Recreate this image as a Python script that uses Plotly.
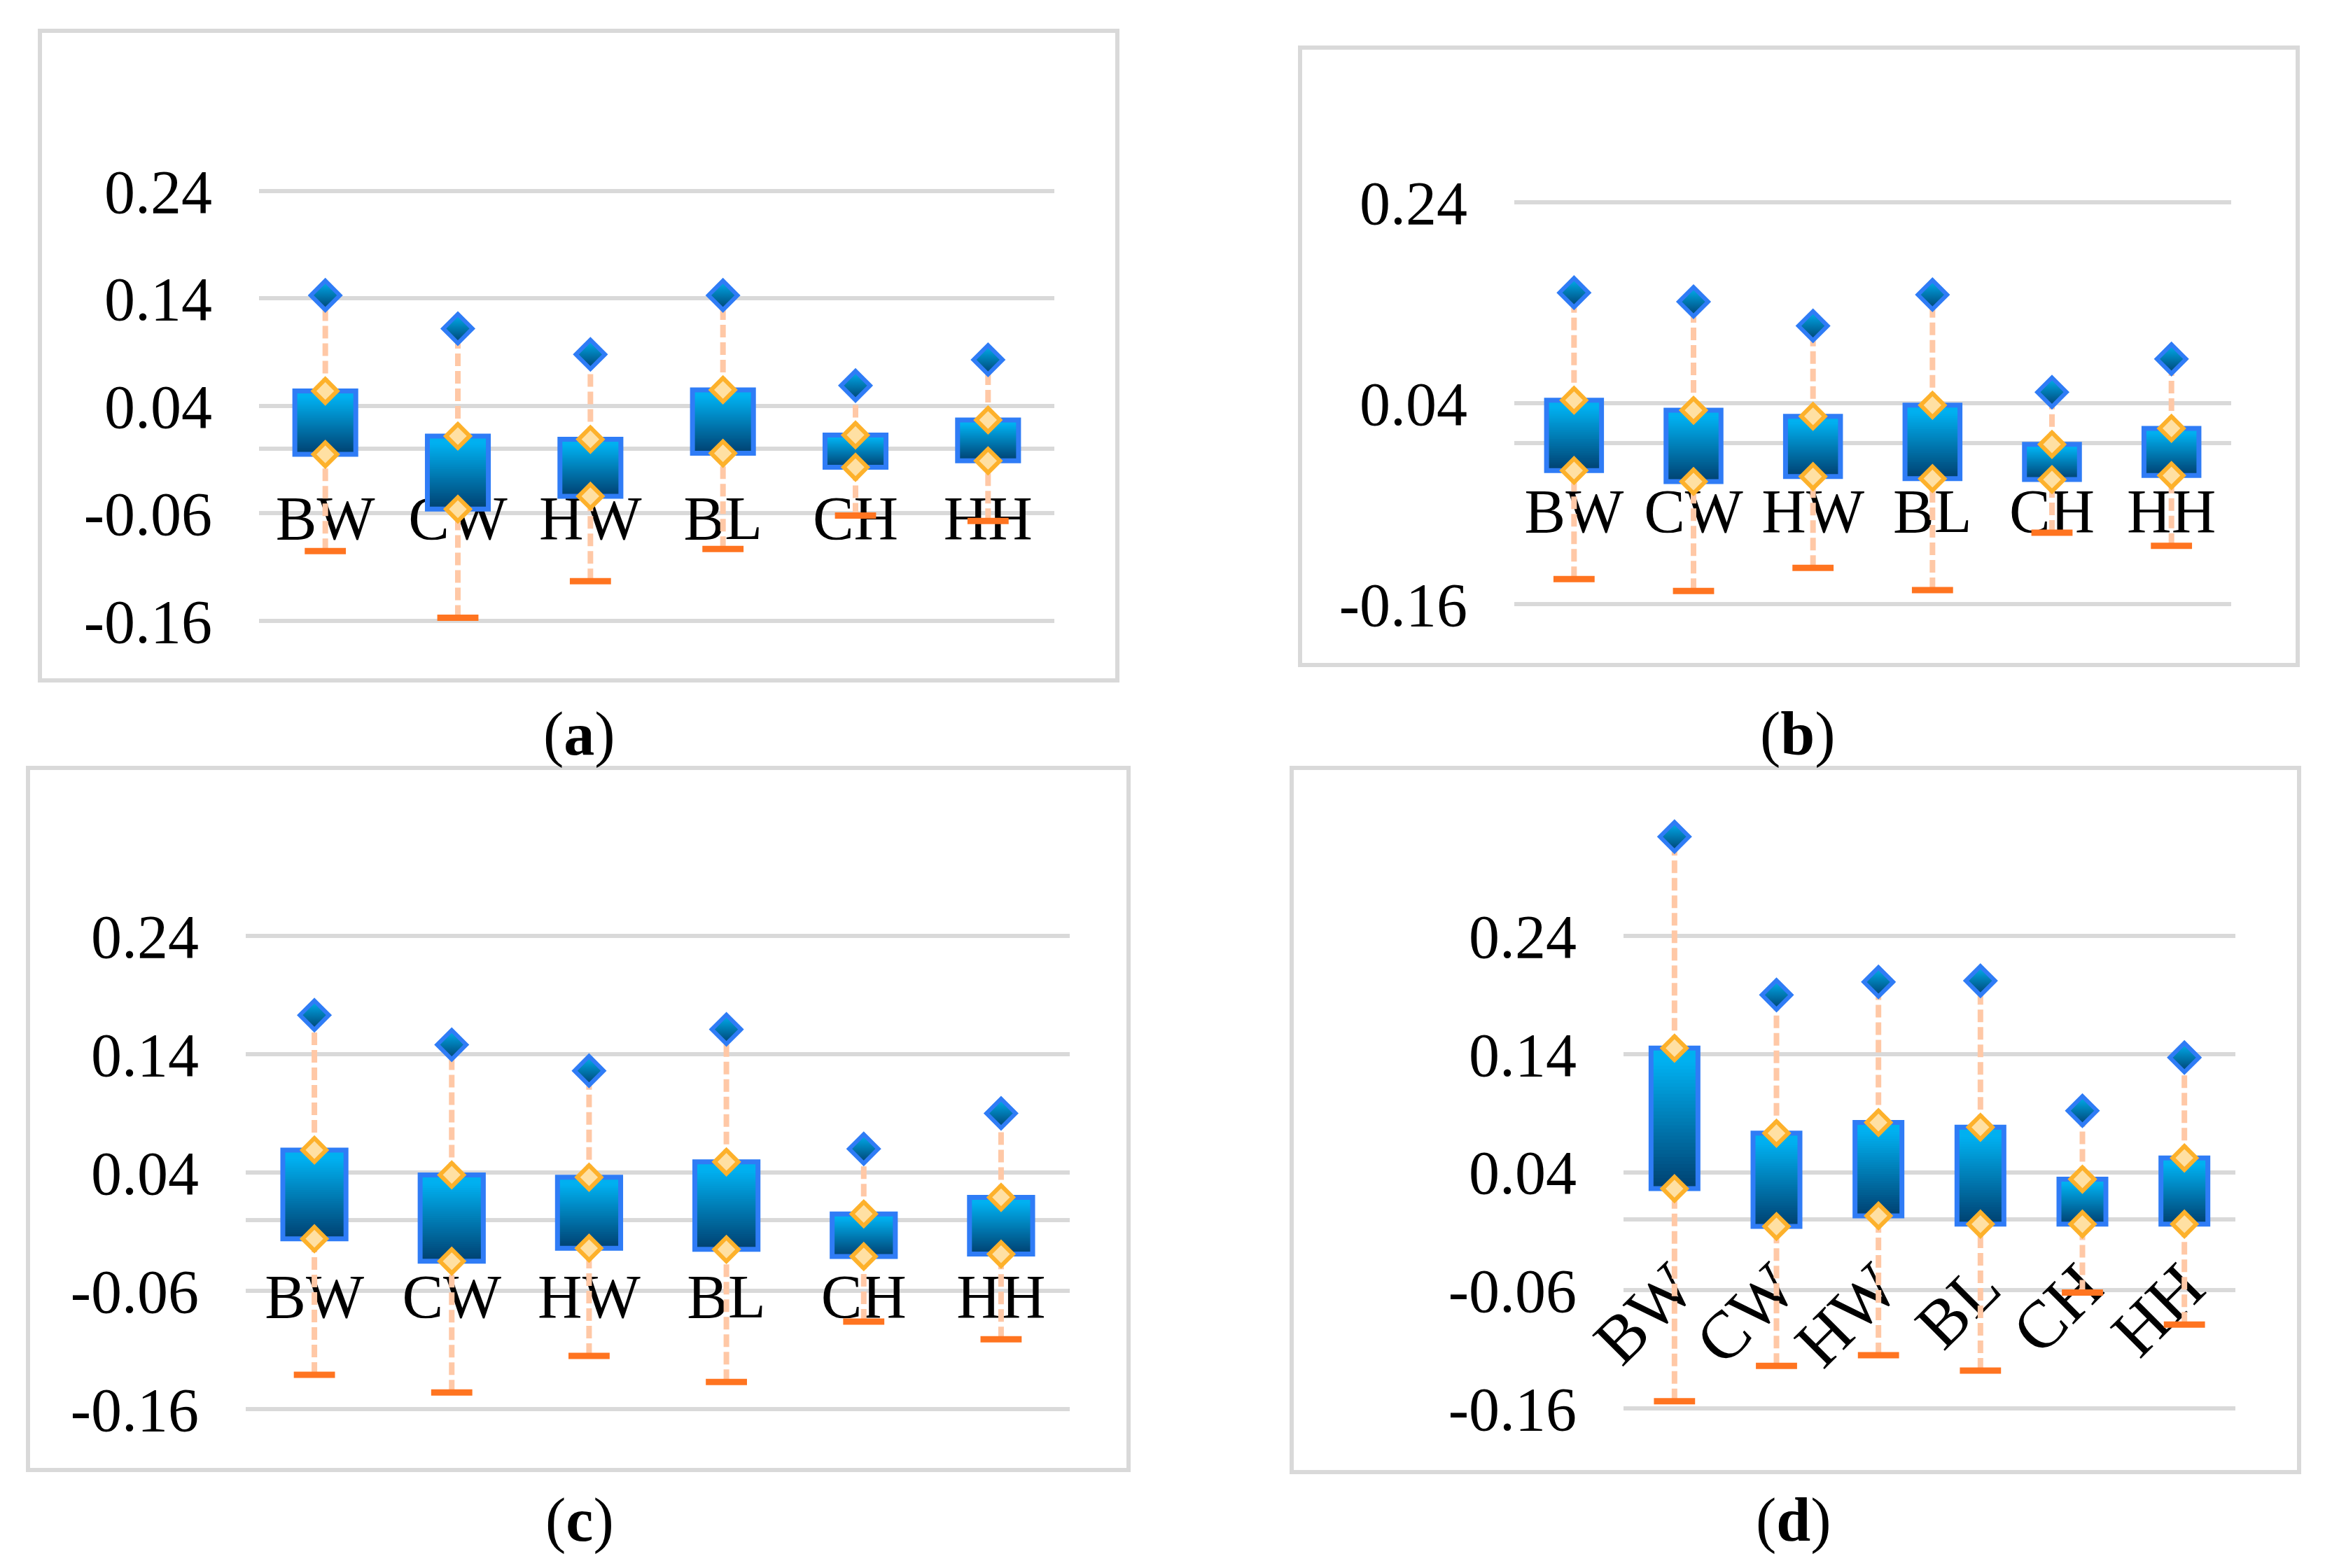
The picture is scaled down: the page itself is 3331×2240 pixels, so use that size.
import plotly.graph_objects as go

# categories shared by the four panels
cats = ["BW", "CW", "HW", "BL", "CH", "HH"]

# (a)
max_a = [0.143, 0.112, 0.088, 0.143, 0.059, 0.083]
q3_a = [0.054, 0.012, 0.009, 0.055, 0.013, 0.027]
q1_a = [-0.005, -0.056, -0.044, -0.004, -0.017, -0.011]
min_a = [-0.095, -0.157, -0.123, -0.093, -0.062, -0.067]

# (b)
max_b = [0.150, 0.141, 0.117, 0.148, 0.051, 0.084]
q3_b = [0.043, 0.033, 0.027, 0.038, -0.001, 0.015]
q1_b = [-0.027, -0.038, -0.033, -0.035, -0.036, -0.032]
min_b = [-0.135, -0.147, -0.124, -0.146, -0.089, -0.102]

# (c)
max_c = [0.173, 0.148, 0.126, 0.161, 0.060, 0.090]
q3_c = [0.059, 0.038, 0.036, 0.049, 0.005, 0.019]
q1_c = [-0.016, -0.035, -0.024, -0.025, -0.031, -0.029]
min_c = [-0.131, -0.146, -0.115, -0.137, -0.086, -0.101]

# (d)
max_d = [0.324, 0.190, 0.201, 0.202, 0.092, 0.137]
q3_d = [0.145, 0.073, 0.082, 0.078, 0.034, 0.052]
q1_d = [0.026, -0.006, 0.003, -0.004, -0.004, -0.004]
min_d = [-0.154, -0.124, -0.115, -0.128, -0.062, -0.089]

# y tick labels
ticks_full = [0.24, 0.14, 0.04, -0.06, -0.16]
ticks_full_text = ["0.24", "0.14", "0.04", "-0.06", "-0.16"]
ticks_sparse = [0.24, 0.04, -0.16]
ticks_sparse_text = ["0.24", "0.04", "-0.16"]

W, H = 3331, 2240
OFF = 8  # page body margin
FONT = "Liberation Serif, Times New Roman, serif"
GRID = "#D9D9D9"
BLUE = "#2F7CF6"
TOP = (0, 176, 240)
BOT = (0, 64, 112)
N_SLICES = 40
Y_LO, Y_HI = -0.175, 0.345

# pixel layout of each panel: plot x extent, y pixel of 0.24 and -0.16, frame, label
panels = [
    dict(key="a", mx=max_a, q3=q3_a, q1=q1_a, mn=min_a, tv=ticks_full, tt=ticks_full_text,
         x0=370, x1=1506, p24=273, p16=887, frame=(57, 44, 1596, 972), lab=(827, 1048),
         angle=0, stand=40, xfont=88),
    dict(key="b", mx=max_b, q3=q3_b, q1=q1_b, mn=min_b, tv=ticks_sparse, tt=ticks_sparse_text,
         x0=2163, x1=3187, p24=289, p16=863, frame=(1857, 68, 3282, 950), lab=(2568, 1048),
         angle=0, stand=38, xfont=88),
    dict(key="c", mx=max_c, q3=q3_c, q1=q1_c, mn=min_c, tv=ticks_full, tt=ticks_full_text,
         x0=351, x1=1528, p24=1337, p16=2013, frame=(40, 1097, 1612, 2100), lab=(828, 2171),
         angle=0, stand=50, xfont=88),
    dict(key="d", mx=max_d, q3=q3_d, q1=q1_d, mn=min_d, tv=ticks_full, tt=ticks_full_text,
         x0=2319, x1=3193, p24=1337, p16=2012, frame=(1845, 1097, 3284, 2103), lab=(2562, 2171),
         angle=-45, stand=20, xfont=96),
]


def shade(t):
    t = max(0.0, (t - 0.1) / 0.9)
    return "rgb(%d,%d,%d)" % tuple(round(a + (b - a) * t) for a, b in zip(TOP, BOT))


def px(x):
    return (x - OFF) / W


def py(y):
    return 1 - (y - OFF) / H


fig = go.Figure()
shapes = []
annotations = []

for i, p in enumerate(panels, start=1):
    xa = "x" if i == 1 else "x%d" % i
    ya = "y" if i == 1 else "y%d" % i

    # nested bars from full height down, giving a top-to-bottom gradient
    sx, sbase, sh, scol = [], [], [], []
    for c, lo, hi in zip(cats, p["q1"], p["q3"]):
        dh = (hi - lo) / N_SLICES
        for k in range(N_SLICES):
            sx.append(c)
            sbase.append(lo)
            sh.append(hi - k * dh - lo)
            scol.append(shade((k + 0.5) / N_SLICES))
    fig.add_trace(go.Bar(x=sx, y=sh, base=sbase, width=0.46, xaxis=xa, yaxis=ya,
                         marker=dict(color=scol, line=dict(width=0)), hoverinfo="skip"))
    # box outline
    fig.add_trace(go.Bar(x=cats, y=[b - a for a, b in zip(p["q1"], p["q3"])], base=p["q1"],
                         width=0.46, xaxis=xa, yaxis=ya,
                         marker=dict(color="rgba(0,0,0,0)", line=dict(color=BLUE, width=7))))

    # whiskers: min -> Q1 and Q3 -> max
    wx, wy = [], []
    for c, mn, lo, hi, mx in zip(cats, p["mn"], p["q1"], p["q3"], p["mx"]):
        wx += [c, c, None, c, c, None]
        wy += [mn, lo, None, hi, mx, None]
    fig.add_trace(go.Scatter(x=wx, y=wy, mode="lines", xaxis=xa, yaxis=ya,
                             line=dict(color="#FFC8A6", width=8, dash="18px,7px")))

    # min markers
    fig.add_trace(go.Scatter(x=cats, y=p["mn"], mode="markers", xaxis=xa, yaxis=ya, cliponaxis=False,
                             marker=dict(symbol="line-ew", size=42,
                                         line=dict(color="#FF7420", width=9))))
    # quartile markers
    fig.add_trace(go.Scatter(x=cats + cats, y=p["q3"] + p["q1"], mode="markers", xaxis=xa, yaxis=ya,
                             cliponaxis=False,
                             marker=dict(symbol="diamond", size=26, color="#FFE0A3",
                                         line=dict(color="#FDB12B", width=6))))
    # max markers
    fig.add_trace(go.Scatter(x=cats, y=p["mx"], mode="markers", xaxis=xa, yaxis=ya, cliponaxis=False,
                             marker=dict(symbol="diamond", size=32, color="#00B0F0",
                                         gradient=dict(type="vertical", color="#00406F"),
                                         line=dict(color=BLUE, width=6))))

    k = (p["p16"] - p["p24"]) / 0.4
    top_pix = p["p24"] - (Y_HI - 0.24) * k
    bot_pix = p["p16"] + (-0.16 - Y_LO) * k
    zero_pix = p["p24"] + 0.24 * k

    fig.layout["xaxis" if i == 1 else "xaxis%d" % i] = dict(
        domain=[px(p["x0"]), px(p["x1"])], type="category", categoryorder="array",
        categoryarray=cats, range=[-0.5, 5.5], anchor="free", position=py(zero_pix),
        showline=False, showgrid=False, zeroline=False, ticks="", tickangle=p["angle"],
        ticklabelstandoff=p["stand"], layer="below traces", automargin=False,
        tickfont=dict(family=FONT, size=p["xfont"], color="black"))
    fig.layout["yaxis" if i == 1 else "yaxis%d" % i] = dict(
        domain=[py(bot_pix), py(top_pix)], anchor=xa, range=[Y_LO, Y_HI],
        tickvals=p["tv"], ticktext=p["tt"],
        showgrid=True, gridcolor=GRID, gridwidth=6, zeroline=True, zerolinecolor=GRID,
        zerolinewidth=6, showline=False, ticks="", ticklabelstandoff=66, automargin=False,
        layer="below traces", tickfont=dict(family=FONT, size=88, color="black"))

    fx0, fy0, fx1, fy1 = p["frame"]
    shapes.append(dict(type="rect", xref="paper", yref="paper", x0=px(fx0), x1=px(fx1),
                       y0=py(fy1), y1=py(fy0), line=dict(color=GRID, width=6),
                       fillcolor="rgba(0,0,0,0)", layer="below"))
    lx, ly = p["lab"]
    annotations.append(dict(text="(<b>%s</b>)" % p["key"], xref="paper", yref="paper",
                            x=px(lx), y=py(ly), xanchor="center", yanchor="middle",
                            showarrow=False, font=dict(family=FONT, size=88, color="black")))

fig.update_layout(
    width=W, height=H, margin=dict(l=0, r=0, t=0, b=0),
    paper_bgcolor="white", plot_bgcolor="white",
    barmode="overlay", showlegend=False,
    shapes=shapes, annotations=annotations,
)

fig.write_html("out.html")
